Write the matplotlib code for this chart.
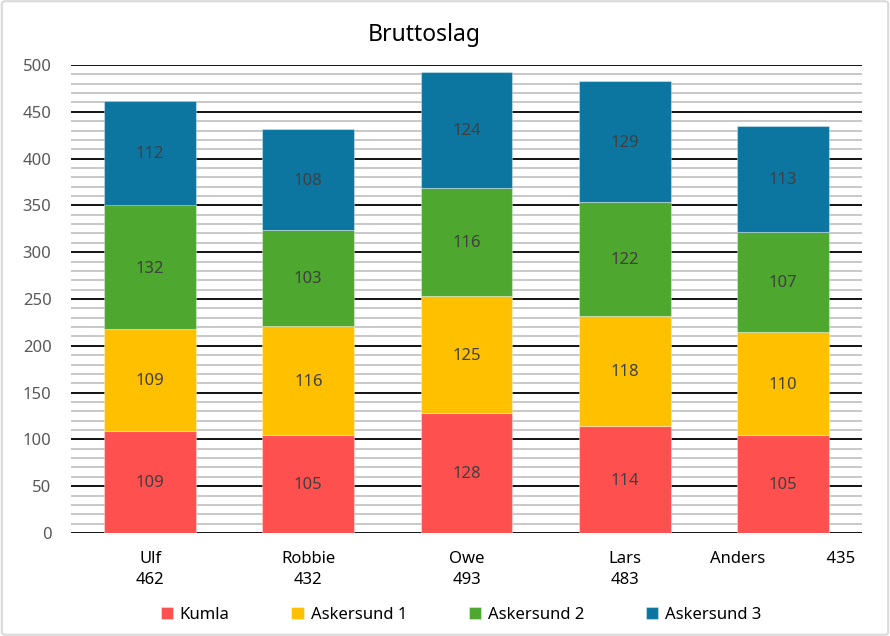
import matplotlib
matplotlib.use("Agg")
import matplotlib.pyplot as plt
from matplotlib.patches import FancyBboxPatch
import numpy as np

plt.rcParams['font.family'] = ['Noto Sans', 'DejaVu Sans']

players = ["Ulf", "Robbie", "Owe", "Lars", "Anders"]
totals = [462, 432, 493, 483, 435]
series_names = ["Kumla", "Askersund 1", "Askersund 2", "Askersund 3"]
kumla = [109, 105, 128, 114, 105]
askersund1 = [109, 116, 125, 118, 110]
askersund2 = [132, 103, 116, 122, 107]
askersund3 = [112, 108, 124, 129, 113]
colors = ["#FF5050", "#FFC000", "#4EA72E", "#0C76A0"]
title = "Bruttoslag"

fig = plt.figure(figsize=(8.9, 6.36), dpi=100)
fig.patches.append(FancyBboxPatch((0.002, 0.002), 0.996, 0.996, boxstyle="round,pad=0,rounding_size=0.004",
                                  transform=fig.transFigure, fill=False, edgecolor="#D9D9D9", linewidth=1.5))
ax = fig.add_axes([71/890, 1-533/636, (862-71)/890, (533-65)/636])

x = np.arange(len(players))
data = [kumla, askersund1, askersund2, askersund3]
bottom = np.zeros(len(players))
for vals, name, c in zip(data, series_names, colors):
    ax.bar(x, vals, width=0.58, bottom=bottom, color=c, label=name,
           edgecolor=(1, 1, 1, 0.35), linewidth=0.8, zorder=3)
    for xi, b, v in zip(x, bottom, vals):
        ax.text(xi, b + v/2 - 1.5, str(v), ha="center", va="center", fontsize=12, color="#404040", zorder=4)
    bottom += np.array(vals)

ax.set_xlim(-0.5, len(players) - 0.5)
ax.set_ylim(0, 500)
ax.set_yticks(np.arange(0, 501, 50))
ax.set_yticks(np.arange(0, 501, 10), minor=True)
ax.grid(which="minor", axis="y", color="#C4C4C4", linewidth=1.3, zorder=1)
ax.grid(which="major", axis="y", color="#000000", linewidth=1.3, zorder=2)
for s in ax.spines.values():
    s.set_visible(False)
ax.tick_params(axis="y", which="both", length=0, labelsize=12, labelcolor="#595959", pad=14)
ax.tick_params(axis="x", length=0, labelsize=12, labelcolor="#000000", pad=13)

labels = [f"{p}\n{t}" for p, t in zip(players[:-1], totals[:-1])]
labels.append(f"{players[-1]}              {totals[-1]}")
ax.set_xticks(x)
ax.set_xticklabels(labels, linespacing=1.4)
tl = ax.get_xticklabels()
tl[-1].set_verticalalignment("top")

fig.text(424/890, 1-35/636, title, ha="center", va="center", fontsize=16.5, color="#000000")

fig.legend(loc="center", bbox_to_anchor=(461/890, 1-615/636), ncol=4, frameon=False,
           fontsize=12, handlelength=0.75, handleheight=0.75, handletextpad=0.4, columnspacing=3.7)

fig.savefig("out.png", dpi=100)
